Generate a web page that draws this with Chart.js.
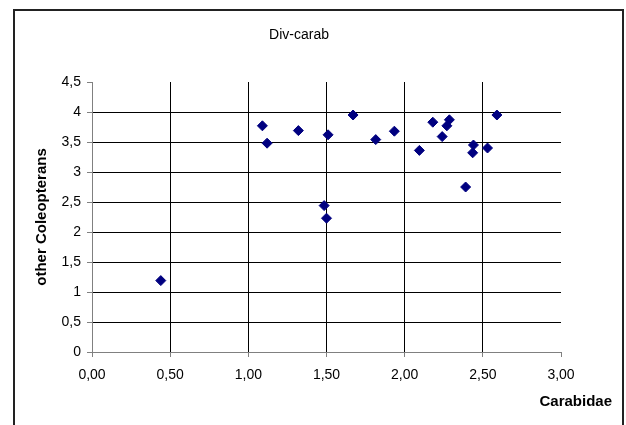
<!DOCTYPE html>
<html>
<head>
<meta charset="utf-8">
<title>Div-carab</title>
<script src="https://cdn.jsdelivr.net/npm/chart.js@4/dist/chart.umd.min.js"></script>
<style>
  html, body { margin: 0; padding: 0; background: #fff; }
  #wrap { width: 626px; height: 425px; }
</style>
</head>
<body>
<div id="wrap"><canvas id="scatter" width="626" height="425"></canvas></div>
<script>
// Carabidae diversity (x) against diversity of the other beetles (y), one point per site
const carabidae = [0.44, 1.09, 1.12, 1.32, 1.51, 1.485, 1.50, 1.67, 1.815, 1.934,
                   2.094, 2.18, 2.286, 2.27, 2.24, 2.44, 2.435, 2.53, 2.39, 2.59];
const otherColeopterans = [1.19, 3.77, 3.48, 3.69, 3.62, 2.44, 2.23, 3.95, 3.54, 3.68,
                           3.36, 3.83, 3.87, 3.77, 3.59, 3.45, 3.32, 3.40, 2.75, 3.95];

const chartTitle = 'Div-carab';
const xTitle = 'Carabidae';
const yTitle = 'other Coleopterans';

const FONT = '"Liberation Sans", Arial, sans-serif';

const points = carabidae.map((x, i) => ({ x: x, y: otherColeopterans[i] }));

// comma as decimal separator
const commaNum = (v, digits) =>
  (digits == null ? String(Math.round(v * 10) / 10) : v.toFixed(digits)).replace('.', ',');

// frame around the whole chart plus the three titles
const decorations = {
  id: 'decorations',
  beforeDraw(chart) {
    const ctx = chart.ctx;
    ctx.save();
    ctx.strokeStyle = '#222';
    ctx.lineWidth = 2;
    ctx.strokeRect(14, 10, 609, 440);
    ctx.restore();
  },
  afterDraw(chart) {
    const ctx = chart.ctx;
    ctx.save();
    ctx.fillStyle = '#000';
    ctx.textBaseline = 'middle';

    ctx.font = '14px ' + FONT;
    ctx.textAlign = 'center';
    ctx.fillText(chartTitle, 299, 35);

    ctx.font = 'bold 15px ' + FONT;
    ctx.textAlign = 'right';
    ctx.fillText(xTitle, 612, 402);

    ctx.translate(42, 217);
    ctx.rotate(-Math.PI / 2);
    ctx.textAlign = 'center';
    ctx.fillText(yTitle, 0, 0);
    ctx.restore();
  }
};

const gridColor = (ctx, last) => {
  const v = ctx.tick ? ctx.tick.value : null;
  if (v === 0 || v === last) return 'rgba(0,0,0,0)';
  return '#000';
};

new Chart(document.getElementById('scatter'), {
  type: 'scatter',
  data: {
    datasets: [{
      data: points,
      pointStyle: 'rectRot',
      pointRadius: 5,
      pointHoverRadius: 5,
      backgroundColor: '#000080',
      borderColor: '#000080',
      borderWidth: 1
    }]
  },
  options: {
    responsive: false,
    animation: false,
    events: [],
    layout: { padding: { top: 82, right: 65, left: 0, bottom: 0 } },
    plugins: {
      legend: { display: false },
      tooltip: { enabled: false },
      title: { display: false }
    },
    scales: {
      x: {
        type: 'linear',
        min: 0,
        max: 3,
        afterFit: s => { s.height = 73; },
        border: { color: '#808080', width: 1 },
        grid: {
          color: c => gridColor(c, 3),
          tickColor: '#808080',
          tickLength: 5,
          lineWidth: 1
        },
        ticks: {
          stepSize: 0.5,
          padding: 10,
          color: '#000',
          font: { family: FONT, size: 14 },
          callback: v => commaNum(v, 2)
        }
      },
      y: {
        type: 'linear',
        min: 0,
        max: 4.5,
        afterFit: s => { s.width = 92; },
        border: { color: '#808080', width: 1 },
        grid: {
          color: c => gridColor(c, 4.5),
          tickColor: '#808080',
          tickLength: 5,
          lineWidth: 1
        },
        ticks: {
          stepSize: 0.5,
          padding: 6,
          color: '#000',
          font: { family: FONT, size: 14 },
          callback: v => commaNum(v)
        }
      }
    }
  },
  plugins: [decorations]
});
</script>
</body>
</html>
